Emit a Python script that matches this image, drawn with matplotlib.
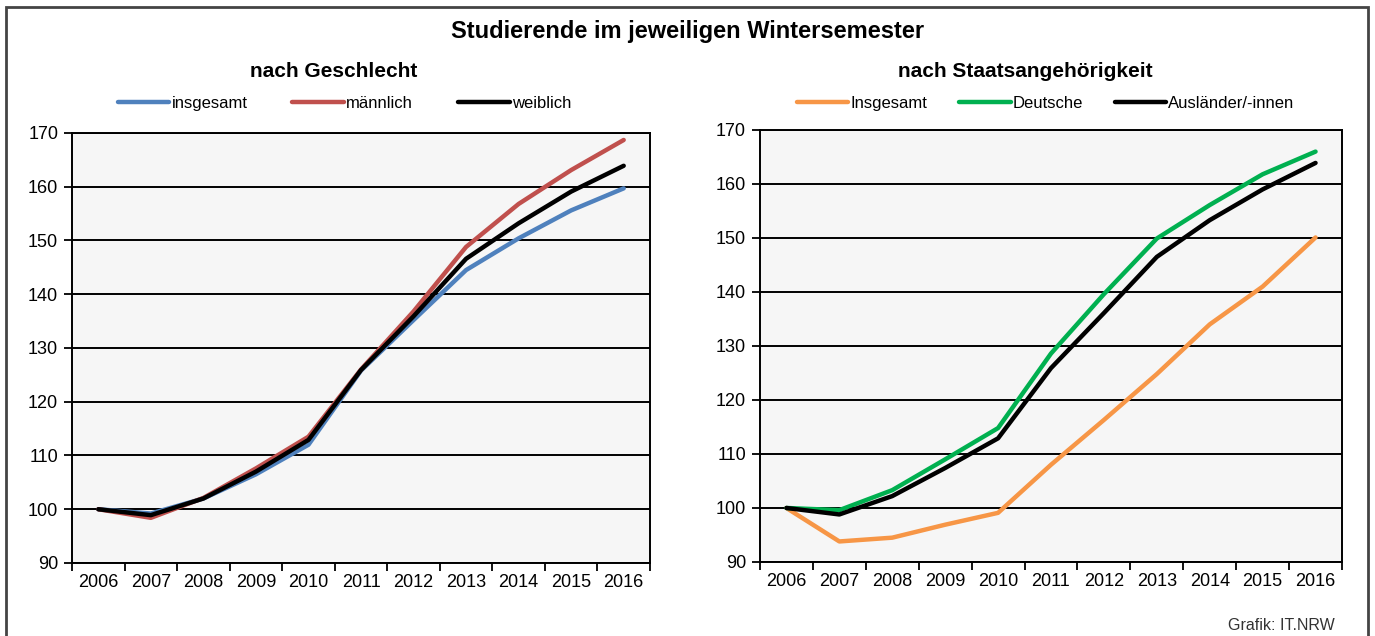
import numpy as np
import matplotlib.pyplot as plt
from matplotlib.patches import Rectangle

plt.rcParams['font.family'] = ['Liberation Sans', 'DejaVu Sans']

years = ['2006', '2007', '2008', '2009', '2010', '2011', '2012', '2013', '2014', '2015', '2016']

# nach Geschlecht
insgesamt = [100, 99.2, 102.0, 106.5, 112.0, 125.8, 135.2, 144.5, 150.4, 155.6, 159.7]
maennlich = [100, 98.4, 102.1, 107.6, 113.5, 126.0, 136.8, 148.8, 156.8, 163.1, 168.7]
weiblich = [100, 98.9, 102.0, 107.0, 112.9, 125.9, 135.9, 146.6, 153.2, 159.1, 163.9]

# nach Staatsangehoerigkeit
insgesamt_st = [100, 93.8, 94.5, 96.9, 99.1, 108.0, 116.3, 124.8, 134.0, 141.0, 150.1]
deutsche = [100, 99.6, 103.3, 109.0, 114.8, 128.6, 139.6, 149.9, 156.1, 161.8, 166.0]
auslaender = [100, 98.8, 102.2, 107.4, 112.9, 125.9, 136.1, 146.5, 153.3, 159.0, 163.9]

yticks = [90, 100, 110, 120, 130, 140, 150, 160, 170]


def draw_panel(ax, series, labels, colors, leg_anchor, colspace):
    x = np.arange(len(years))
    ax.set_facecolor('#f6f6f6')
    for vals, lab, col in zip(series, labels, colors):
        ax.plot(x, vals, color=col, lw=3.2, label=lab, solid_capstyle='round', zorder=3)
    ax.set_xlim(-0.5, len(years) - 0.5)
    ax.set_ylim(90, 170)
    ax.set_yticks(yticks)
    ax.set_yticklabels([str(t) for t in yticks], fontsize=13)
    ax.set_xticks(x)
    ax.set_xticklabels(years, fontsize=13)
    ax.tick_params(axis='x', which='major', length=0, pad=8)
    ax.set_xticks(np.arange(-0.5, len(years)), minor=True)
    ax.tick_params(axis='x', which='minor', length=6, width=1.3, direction='out')
    ax.tick_params(axis='y', length=6, width=1.3, direction='out', pad=4)
    ax.grid(axis='y', color='black', lw=1.4, zorder=1)
    ax.set_axisbelow(True)
    for sp in ax.spines.values():
        sp.set_color('black')
        sp.set_linewidth(1.4)
    ax.legend(loc='center', bbox_to_anchor=leg_anchor, bbox_transform=ax.figure.transFigure,
              ncol=3, frameon=False, fontsize=12, handlelength=3.1, handletextpad=0.12,
              columnspacing=colspace)


fig = plt.figure(figsize=(13.75, 6.36), dpi=100)
ax1 = fig.add_axes([0.0524, 0.1148, 0.4203, 0.6761])
ax2 = fig.add_axes([0.5527, 0.1164, 0.4233, 0.6792])

draw_panel(ax1, [insgesamt, maennlich, weiblich], ['insgesamt', 'männlich', 'weiblich'],
           ['#4f81bd', '#c0504d', 'black'], (0.2505, 0.838), 2.7)
draw_panel(ax2, [insgesamt_st, deutsche, auslaender], ['Insgesamt', 'Deutsche', 'Ausländer/-innen'],
           ['#f79646', '#00b050', 'black'], (0.7605, 0.838), 1.9)

fig.text(0.5, 0.950, 'Studierende im jeweiligen Wintersemester', ha='center', va='center',
         fontsize=17, fontweight='bold')
fig.text(0.243, 0.888, 'nach Geschlecht', ha='center', va='center', fontsize=15, fontweight='bold')
fig.text(0.746, 0.888, 'nach Staatsangehörigkeit', ha='center', va='center', fontsize=15,
         fontweight='bold')
fig.text(0.971, 0.016, 'Grafik: IT.NRW', ha='right', va='center', fontsize=11.5, color='#333333')

fig.patches.append(Rectangle((0.0047, -0.05), 0.9905, 1.039, transform=fig.transFigure,
                             fill=False, edgecolor='#444444', lw=2))

fig.savefig('out.png', dpi=100)
plt.close(fig)
